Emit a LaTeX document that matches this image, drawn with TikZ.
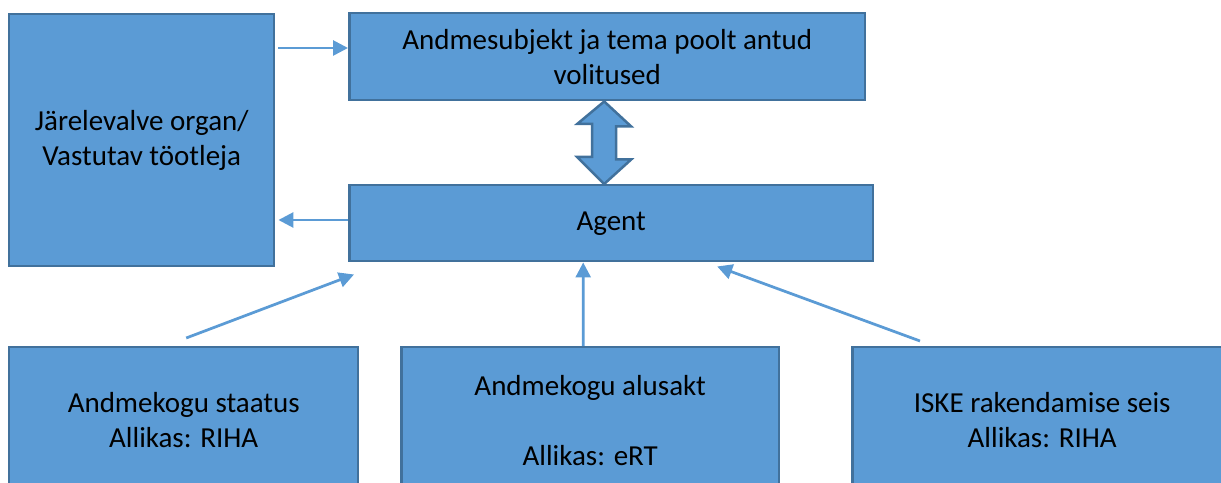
\documentclass[tikz,border=0pt]{standalone}
\usepackage{fontspec}
\setmainfont{Carlito}
\usepackage{tikz}
\usetikzlibrary{arrows.meta,calc}
\definecolor{boxblue}{HTML}{5B9BD5}
\definecolor{boxedge}{HTML}{41719C}
\tikzset{
  box/.style={draw=boxedge, line width=0.05cm, fill=boxblue, align=center, anchor=north west, inner sep=0pt, font=\fontsize{16.5}{20}\selectfont},
  arrow/.style={-{Triangle[length=3mm,width=3mm]}, line width=0.055cm, draw=boxblue},
  blockarrow/.style={draw=boxedge, line width=0.05cm, fill=boxblue, line join=miter}
}
\begin{document}
\begin{tikzpicture}[x=0.02cm, y=0.02cm]
  \useasboundingbox (0,0) rectangle (1221,483);
  \node[box, minimum width=5.3cm, minimum height=5.04cm] (sup) at (8,470) {J\"arelevalve organ/\\Vastutav t\"ootleja};
  \node[box, minimum width=10.32cm, minimum height=1.74cm] (mandate) at (348,471) {Andmesubjekt ja tema poolt antud\\volitused};
  \node[box, minimum width=10.48cm, minimum height=1.52cm] (agent) at (348,299) {Agent};
  \node[box, minimum width=6.98cm, minimum height=2.92cm] (stat) at (8,137) {Andmekogu staatus\\Allikas: RIHA};
  \node[box, minimum width=7.56cm, minimum height=2.92cm] (act) at (400,137) {Andmekogu alusakt\\[20pt]Allikas: eRT};
  \node[box, minimum width=7.6cm, minimum height=2.92cm] (iske) at (851,137) {ISKE rakendamise seis\\Allikas: RIHA};

  % helper points for the connectors
  \coordinate (h1) at (0,435);
  \coordinate (h2) at (0,263);
  \coordinate (dtop) at ($(mandate.south)+(-3,0)$);
  \coordinate (dbot) at ($(agent.north)+(-7,0)$);

  \draw[arrow, shorten <=0.06cm] (sup.east |- h1) -- (mandate.west |- h1);
  \draw[arrow, shorten >=0.06cm] (agent.west |- h2) -- (sup.east |- h2);
  \draw[arrow] ($(stat.north)+(2.5,8)$) -- ($(agent.south west)+(6,-12)$);
  \draw[arrow] ($(act.north)+(-7,0)$) -- ($(agent.south)+(-28,0)$);
  \draw[arrow] ($(iske.north west)+(69,5)$) -- ($(agent.south)+(106,-4)$);
  \draw[blockarrow] (dtop) -- ++(27,-25) -- ++(-15,0) -- ++(0,-33) -- ++(15,0) -- (dbot)
    -- ++(-27,27) -- ++(15,0) -- ++(0,33) -- ++(-15,0) -- cycle;
\end{tikzpicture}
\end{document}
